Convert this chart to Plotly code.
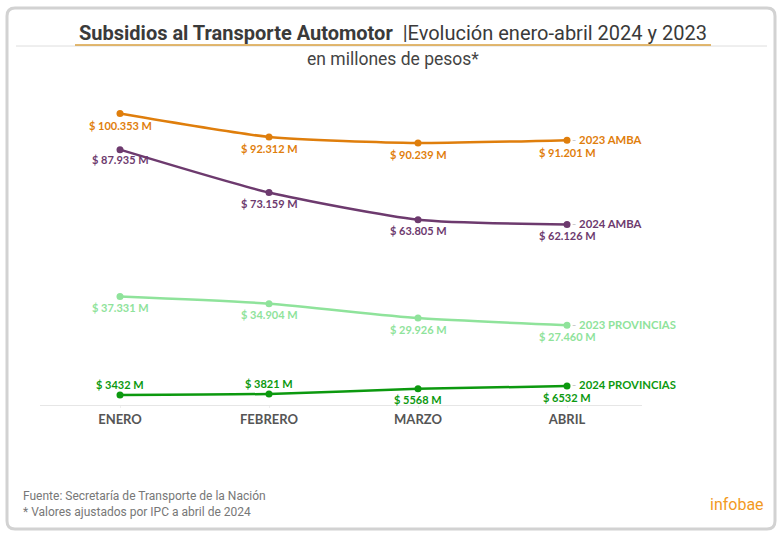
import plotly.graph_objects as go

months = ["ENERO", "FEBRERO", "MARZO", "ABRIL"]
series_names = ["2023 AMBA", "2024 AMBA", "2023 PROVINCIAS", "2024 PROVINCIAS"]
amba_2023 = [100353, 92312, 90239, 91201]
amba_2024 = [87935, 73159, 63805, 62126]
prov_2023 = [37331, 34904, 29926, 27460]
prov_2024 = [3432, 3821, 5568, 6532]
labels_amba_2023 = ["$ 100.353 M", "$ 92.312 M", "$ 90.239 M", "$ 91.201 M"]
labels_amba_2024 = ["$ 87.935 M", "$ 73.159 M", "$ 63.805 M", "$ 62.126 M"]
labels_prov_2023 = ["$ 37.331 M", "$ 34.904 M", "$ 29.926 M", "$ 27.460 M"]
labels_prov_2024 = ["$ 3432 M", "$ 3821 M", "$ 5568 M", "$ 6532 M"]

colors = ["#df7e0c", "#6d3a6e", "#8fe39b", "#0c990f"]

W, H = 783, 541
L, R, T, B = 40, 141, 90, 136
PW, PH = W - L - R, H - T - B

def px(x):
    return (x - L) / PW

def py(y):
    return (H - B - y) / PH

fig = go.Figure()
x = list(range(len(months)))
all_vals = [amba_2023, amba_2024, prov_2023, prov_2024]
all_labels = [labels_amba_2023, labels_amba_2024, labels_prov_2023, labels_prov_2024]
shifts = [
    [-12, -12, -12, -12],
    [-10, -11, -11, -11],
    [-11, -11, -11, -11],
    [11, 10, -11, -11],
]
end_shift = [1, 1, 1, 2]
for name, vals, labs, sh, es, c in zip(series_names, all_vals, all_labels, shifts, end_shift, colors):
    fig.add_trace(go.Scatter(
        x=x, y=vals, mode="lines+markers", name=name,
        line=dict(color=c, width=2.5, shape="spline", smoothing=0.6),
        marker=dict(color=c, size=7),
        cliponaxis=False, showlegend=False, hoverinfo="skip",
    ))
    for xi, v, lab, s in zip(x, vals, labs, sh):
        fig.add_annotation(
            x=xi, y=v, xref="x", yref="y", text=f"<b>{lab}</b>", showarrow=False,
            xanchor="center", yanchor="middle", yshift=s,
            font=dict(family="Lato", size=11, color=c),
        )
    fig.add_annotation(
        x=x[-1], y=vals[-1], xref="x", yref="y",
        text=f"<span style='color:#c8c8c8'>-</span> <b>{name}</b>",
        showarrow=False, xanchor="left", yanchor="middle", xshift=3, yshift=es,
        font=dict(family="Lato", size=11.3, color=c),
    )

# card border (rounded)
x0, y0, x1, y1, r = 7, 8, 775, 529, 8
path = (
    f"M {px(x0 + r)},{py(y0)} L {px(x1 - r)},{py(y0)} Q {px(x1)},{py(y0)} {px(x1)},{py(y0 + r)} "
    f"L {px(x1)},{py(y1 - r)} Q {px(x1)},{py(y1)} {px(x1 - r)},{py(y1)} "
    f"L {px(x0 + r)},{py(y1)} Q {px(x0)},{py(y1)} {px(x0)},{py(y1 - r)} "
    f"L {px(x0)},{py(y0 + r)} Q {px(x0)},{py(y0)} {px(x0 + r)},{py(y0)} Z"
)
fig.add_shape(type="path", path=path, xref="paper", yref="paper",
              line=dict(color="#d2d2d2", width=3), layer="below")
# title lines
fig.add_shape(type="line", xref="paper", yref="paper", x0=px(16), x1=px(767), y0=py(46), y1=py(46),
              line=dict(color="#dedede", width=1))
fig.add_shape(type="line", xref="paper", yref="paper", x0=px(75), x1=px(711), y0=py(45), y1=py(45),
              line=dict(color="#d9a040", width=1.5))

fig.add_annotation(
    xref="paper", yref="paper", x=px(393), y=py(33), showarrow=False, xanchor="center", yanchor="middle",
    text="<b>Subsidios al Transporte Automotor</b>  <span style='color:#3a3a3a'>|Evolución enero-abril 2024 y 2023</span>",
    font=dict(family="Roboto", size=20, color="#3a3a3a"),
)
fig.add_annotation(
    xref="paper", yref="paper", x=px(393), y=py(59), showarrow=False, xanchor="center", yanchor="middle",
    text="en millones de pesos*",
    font=dict(family="Roboto", size=17.5, color="#444"),
)
fig.add_annotation(
    xref="paper", yref="paper", x=px(21), y=py(504), showarrow=False, xanchor="left", yanchor="middle",
    align="left",
    text="Fuente: Secretaría de Transporte de la Nación<br>* Valores ajustados por IPC a abril de 2024",
    font=dict(family="Roboto", size=12, color="#777"),
)
fig.add_annotation(
    xref="paper", yref="paper", x=px(766), y=py(504), showarrow=False, xanchor="right", yanchor="middle",
    text="infobae",
    font=dict(family="Roboto", size=16, color="#f29a1f"),
)

ymax = PH / 0.002904
fig.update_layout(
    width=W, height=H, margin=dict(l=L, r=R, t=T, b=B),
    paper_bgcolor="white", plot_bgcolor="white",
    xaxis=dict(range=[-80 / 149, 522 / 149], tickvals=x, ticktext=months, showgrid=False, zeroline=False,
               showline=True, linecolor="#e6e6e6", linewidth=1, ticks="outside", ticklen=2,
               tickcolor="#eeeeee", tickfont=dict(family="Lato", size=13, color="#555", weight="bold"),
               fixedrange=True),
    yaxis=dict(range=[0, ymax], visible=False, showgrid=False, fixedrange=True),
    showlegend=False,
)
fig.write_html("out.html", config={"displayModeBar": False},
               post_script="document.body.style.margin='0';document.body.style.overflow='hidden';")
